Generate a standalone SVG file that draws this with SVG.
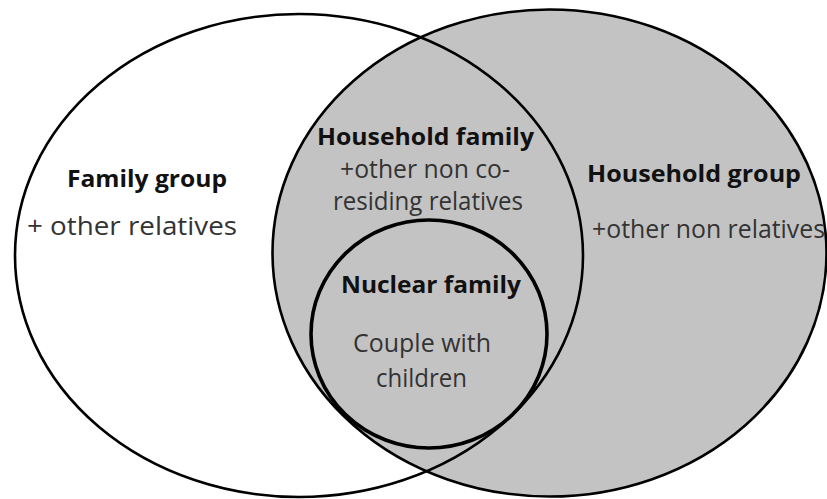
<svg xmlns="http://www.w3.org/2000/svg" width="827" height="499" viewBox="0 0 827 499">
<style>
.set{stroke:#000;stroke-width:2.6}
.gray{fill:#c3c3c3}
.b{font-family:"Open Sans","Noto Sans","Liberation Sans",sans-serif;font-weight:bold;font-size:24px;fill:#111}
.r{font-family:"Open Sans","Noto Sans","Liberation Sans",sans-serif;font-size:25px;fill:#333}
</style>
<rect width="827" height="499" fill="#fff"/>
<g id="household-group">
<ellipse class="set gray" cx="549.5" cy="253" rx="277" ry="243.5"/>
</g>
<g id="family-group">
<ellipse class="set" cx="299" cy="255.5" rx="284" ry="241.5" fill="none"/>
</g>
<g id="nuclear-family">
<ellipse class="gray" cx="429" cy="334" rx="118" ry="114" stroke="#000" stroke-width="3.6"/>
</g>
<g id="labels">
<text class="b" x="67" y="187" textLength="160" lengthAdjust="spacingAndGlyphs">Family group</text>
<text class="r" x="27" y="235" textLength="210" lengthAdjust="spacingAndGlyphs">+ other relatives</text>
<text class="b" x="317" y="145" font-size="23" textLength="217" lengthAdjust="spacingAndGlyphs">Household family</text>
<text class="r" x="340" y="178" textLength="170" lengthAdjust="spacingAndGlyphs">+other non co-</text>
<text class="r" x="333" y="210" textLength="190" lengthAdjust="spacingAndGlyphs">residing relatives</text>
<text class="b" x="587" y="182" textLength="214" lengthAdjust="spacingAndGlyphs">Household group</text>
<text class="r" x="592" y="238" textLength="233" lengthAdjust="spacingAndGlyphs">+other non relatives</text>
<text class="b" x="341" y="293" textLength="180" lengthAdjust="spacingAndGlyphs">Nuclear family</text>
<text class="r" x="353" y="352" textLength="138" lengthAdjust="spacingAndGlyphs">Couple with</text>
<text class="r" x="376" y="387" textLength="91" lengthAdjust="spacingAndGlyphs">children</text>
</g>
</svg>
